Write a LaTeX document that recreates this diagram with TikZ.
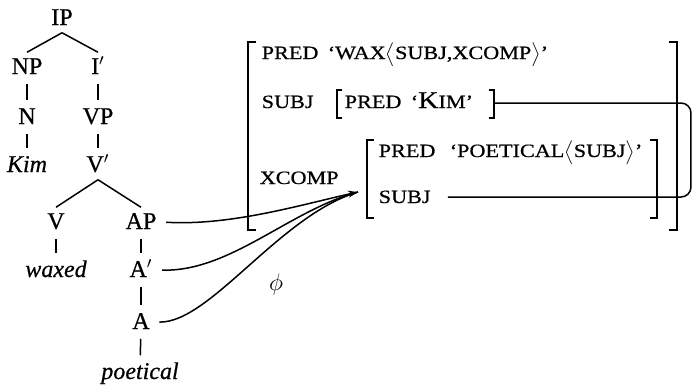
\documentclass[tikz,border=0pt]{standalone}
\usepackage{fontspec}
\setmainfont{Liberation Serif}[UprightFeatures={FakeBold=0.6}, ItalicFeatures={FakeBold=0.6}]
\newfontfamily\featfont{Liberation Serif}[FakeStretch=1.18, FakeBold=0.6, Ligatures=TeX]
\usetikzlibrary{arrows.meta,positioning}
\newcommand{\bigK}[1]{{\fontsize{12}{14}\selectfont #1}}

\begin{document}
\begin{tikzpicture}[x=0.5pt, y=-0.5pt, line width=0.75pt,
  cat/.style={font=\fontsize{12}{14}\selectfont, inner sep=2.5pt, text height=8pt, text depth=1pt},
  feat/.style={font=\featfont\fontsize{9.4}{11}\selectfont, inner sep=0pt, anchor=base west},
  unary/.style={shorten <=1pt, shorten >=1pt},
  brack/.style={line width=1.1pt}]
\useasboundingbox (0,0) rectangle (693,388);
% c-structure
\node[cat] (IP) at (62,18) {IP};
\node[cat] (NP) at (27,67) {NP};
\node[cat] (I1) at (98,67) {I$'$};
\node[cat] (N) at (27,117) {N};
\node[cat] (VP) at (98,117) {VP};
\node[cat] (kimw) at (27,165) {\itshape Kim};
\node[cat] (V1) at (98,165) {V$'$};
\node[cat] (V) at (56,222) {V};
\node[cat] (AP) at (141,222) {AP};
\node[cat] (waxed) at (56,270) {\itshape waxed};
\node[cat] (A1) at (141,270) {A$'$};
\node[cat] (A) at (141,322) {A};
\node[cat] (poetical) at (140,372) {\itshape poetical};
\draw (IP.south) -- (NP.north);
\draw (IP.south) -- (I1.north);
\draw[unary] (NP) -- (N);
\draw[unary] (N) -- (kimw);
\draw[unary] (I1) -- (VP);
\draw[unary] (VP) -- (V1);
\draw (V1.south) -- (V.north);
\draw (V1.south) -- (AP.north);
\draw[unary] (V) -- (waxed);
\draw[unary] (AP) -- (A1);
\draw[unary] (A1) -- (A);
\draw[unary] (A) -- (poetical);
% f-structure
\node[feat] (pred) at (261,59) {PRED};
\node[feat] (wax) at (327,59) {‘WAX$\big\langle$SUBJ,XCOMP$\big\rangle$’};
\node[feat] (subj) at (261,108) {SUBJ};
\node[feat] (kpred) at (344,108) {PRED};
\node[feat] (kim) at (410,108) {‘\bigK{K}IM’};
\node[feat] (xcomp) at (259,184) {XCOMP};
\node[feat] (ppred) at (378,157) {PRED};
\node[feat] (poet) at (449,157) {‘POETICAL$\big\langle$SUBJ$\big\rangle$’};
\node[feat] (psubj) at (378,203) {SUBJ};
% brackets
\draw[brack] (256,42) -- (248,42) -- (248,230) -- (256,230);
\draw[brack] (669,42) -- (677,42) -- (677,230) -- (669,230);
\draw (342,90) -- (337,90) -- (337,118) -- (342,118);
\draw (489,90) -- (494,90) -- (494,118) -- (489,118);
\draw (374,140) -- (367,140) -- (367,218) -- (374,218);
\draw (650,140) -- (657,140) -- (657,218) -- (650,218);
% structure sharing
\coordinate (kimR) at (494,103);
\coordinate (loop) at (691,150);
\coordinate (subjV) at (448,197);
\draw[rounded corners=5pt] (kimR) -| (loop) |- (subjV);
% correspondence
\coordinate (phitip) at (358,192);
\draw[-{Stealth[length=5pt,width=3.5pt]}, shorten <=2pt] (AP.east) .. controls (230,226) and (300,205) .. (phitip);
\draw[shorten <=2pt] (A1.east) .. controls (230,272) and (290,210) .. (phitip);
\draw[shorten <=2pt] (A.east) .. controls (210,323) and (280,215) .. (phitip);
\node[cat] (phi) at (276,283) {$\phi$};
\end{tikzpicture}
\end{document}
